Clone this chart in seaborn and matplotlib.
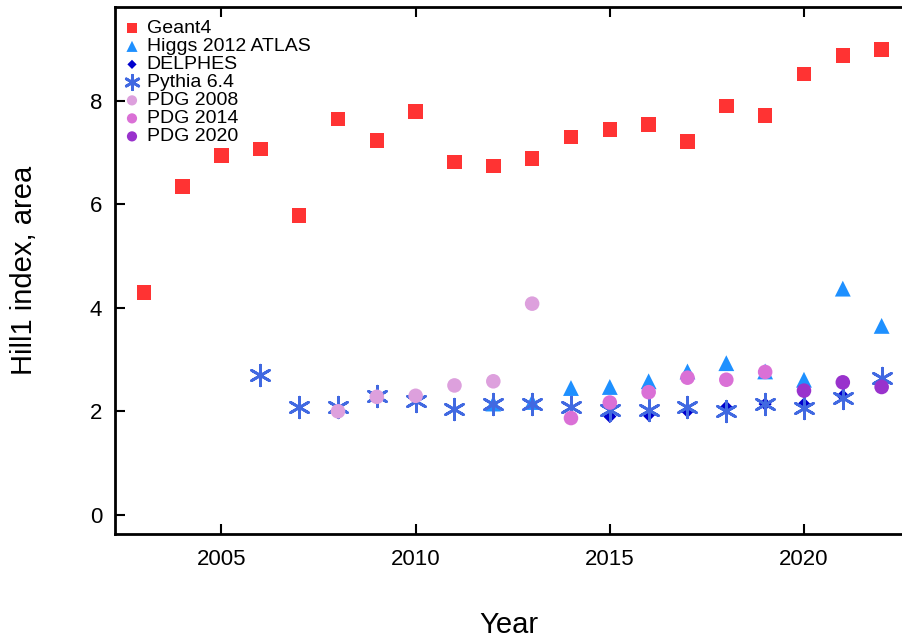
import pandas as pd
import seaborn as sns
import matplotlib.pyplot as plt

# values
geant4_years = list(range(2003, 2023))
geant4_vals = [4.29, 6.34, 6.94, 7.07, 5.78, 7.65, 7.23, 7.79, 6.82, 6.74,
               6.88, 7.30, 7.44, 7.54, 7.21, 7.90, 7.71, 8.52, 8.87, 8.99]

higgs_years = list(range(2012, 2023))
higgs_vals = [2.15, 2.18, 2.45, 2.47, 2.58, 2.77, 2.93, 2.77, 2.61, 4.37, 3.65]

delphes_years = list(range(2015, 2023))
delphes_vals = [1.90, 1.93, 2.00, 2.08, 2.14, 2.14, 2.30, 2.47]

pythia_years = list(range(2006, 2023))
pythia_vals = [2.70, 2.08, 2.09, 2.29, 2.19, 2.04, 2.14, 2.15, 2.09, 2.03,
               2.03, 2.09, 2.00, 2.14, 2.07, 2.25, 2.65]

pdg2008_years = list(range(2008, 2014))
pdg2008_vals = [2.00, 2.28, 2.30, 2.50, 2.58, 4.08]

pdg2014_years = list(range(2014, 2020))
pdg2014_vals = [1.87, 2.17, 2.37, 2.65, 2.61, 2.76]

pdg2020_years = [2020, 2021, 2022]
pdg2020_vals = [2.40, 2.56, 2.47]

series = [
    ("Geant4", geant4_years, geant4_vals, "s", "#ff3333", 110),
    ("Higgs 2012 ATLAS", higgs_years, higgs_vals, "^", "#1e90ff", 130),
    ("DELPHES", delphes_years, delphes_vals, "D", "#0000cd", 45),
    ("Pythia 6.4", pythia_years, pythia_vals, (6, 2, 0), "#4169e1", 220),
    ("PDG 2008", pdg2008_years, pdg2008_vals, "o", "#dda0dd", 110),
    ("PDG 2014", pdg2014_years, pdg2014_vals, "o", "#da70d6", 110),
    ("PDG 2020", pdg2020_years, pdg2020_vals, "o", "#9932cc", 110),
]

sns.set_style("ticks")
plt.rcParams['font.family'] = ['Liberation Sans', 'DejaVu Sans']
plt.rcParams['text.color'] = 'black'
plt.rcParams['axes.labelcolor'] = 'black'
plt.rcParams['xtick.color'] = 'black'
plt.rcParams['ytick.color'] = 'black'

fig = plt.figure(figsize=(9.03, 6.38), dpi=100)
ax = fig.add_axes([0.127, 0.163, 0.873, 0.826])

for name, yrs, vals, mk, col, sz in series:
    df = pd.DataFrame({"Year": yrs, "val": vals})
    if mk == (6, 2, 0):
        sns.scatterplot(data=df, x="Year", y="val", ax=ax, marker=mk, s=sz,
                        color=col, edgecolor=col, linewidth=2, label=name)
    else:
        sns.scatterplot(data=df, x="Year", y="val", ax=ax, marker=mk, s=sz,
                        color=col, edgecolor="none", linewidth=0, label=name)

ax.set_xlim(2002.25, 2022.55)
ax.set_ylim(-0.37, 9.81)
ax.set_xticks([2005, 2010, 2015, 2020])
ax.set_yticks([0, 2, 4, 6, 8])

for side in ["left", "bottom", "top"]:
    ax.spines[side].set_linewidth(2)
    ax.spines[side].set_color("black")
ax.spines["right"].set_visible(False)

ax.tick_params(axis="x", direction="in", length=7, width=1.5, top=True,
               labelsize=16, pad=10.5)
ax.tick_params(axis="y", direction="in", length=7, width=1.5,
               labelsize=16, pad=9)

ax.set_xlabel("Year", fontsize=21, labelpad=30)
ax.set_ylabel("Hill1 index, area", fontsize=21, labelpad=37.5)

leg = ax.legend(loc="upper left", bbox_to_anchor=(0, 0.99), frameon=False,
                fontsize=14, handletextpad=0.25, labelspacing=0.02,
                borderaxespad=0, borderpad=0.39, handlelength=1.0,
                markerscale=0.7)

fig.savefig("out.png", dpi=100)
